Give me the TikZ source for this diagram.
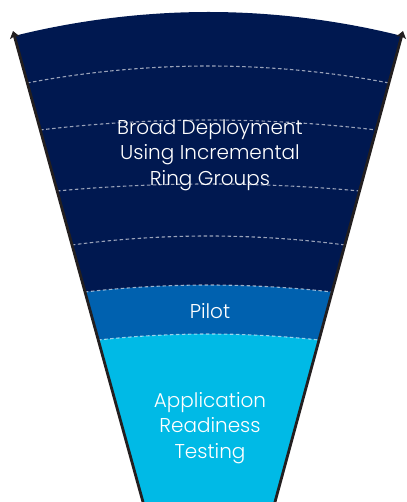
\documentclass[tikz,border=0pt]{standalone}
\usepackage{fontspec}
\setmainfont{Poppins Light}
\usetikzlibrary{arrows.meta}
\definecolor{navy}{RGB}{0,24,80}
\definecolor{pilotblue}{RGB}{0,97,175}
\definecolor{appblue}{RGB}{0,186,230}
\definecolor{edgegray}{RGB}{35,31,32}
\tikzset{
  ringline/.style={draw=white, draw opacity=0.6, line width=1.1pt, dash pattern=on 3.5pt off 2.5pt},
  edgeline/.style={draw=edgegray, line width=2.8pt, -{Stealth[length=7pt,width=10pt,inset=1.5pt]}},
  label/.style={text=white, font=\fontsize{20}{25.5}\selectfont, align=center, inner sep=0pt}
}
\begin{document}
\begin{tikzpicture}[x=1pt,y=-1pt]
\useasboundingbox (0,0) rectangle (406,502);
\clip (0,0) rectangle (406,502);
% bands
\fill[navy] (14,36) parabola bend (208.5,12) (402,36) -- (272.8,510) -- (145.2,510) -- cycle;
\fill[pilotblue] (84.9,292) parabola bend (208.5,285) (332.2,292) -- (272.8,510) -- (145.2,510) -- cycle;
\fill[appblue] (98.2,340) parabola bend (208.5,334) (319.1,340) -- (272.8,510) -- (145.2,510) -- cycle;
% ring lines
\draw[ringline] (27.1,83) parabola bend (208.5,66) (389.1,83);
\draw[ringline] (40.1,130) parabola bend (208.5,120) (376.3,130);
\draw[ringline] (57.0,191) parabola bend (208.5,184) (359.7,191);
\draw[ringline] (71.9,245) parabola bend (208.5,236) (345.0,245);
\draw[ringline] (84.9,292) parabola bend (208.5,285) (332.2,292);
\draw[ringline] (98.2,340) parabola bend (208.5,334) (319.1,340);
% edges
\coordinate (bl) at (145.2,510);
\coordinate (tl) at (13,31);
\coordinate (br) at (272.8,510);
\coordinate (tr) at (403,31);
\draw[edgeline] (bl) -- (tl);
\draw[edgeline] (br) -- (tr);
% labels
\node[label] (broad) at (210,155) {Broad Deployment\\Using Incremental\\Ring Groups};
\node[label] (pilot) at (210,311) {Pilot};
\node[label] (app) at (210,428) {Application\\Readiness\\Testing};
\end{tikzpicture}
\end{document}
